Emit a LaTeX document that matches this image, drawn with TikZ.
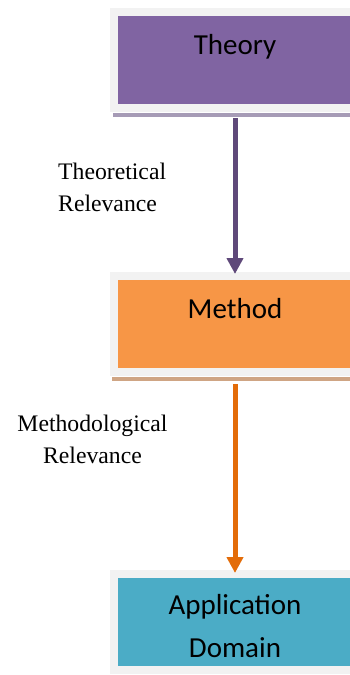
\documentclass[tikz,border=0pt]{standalone}
\usepackage{fontspec}
\setmainfont{Liberation Serif}
\newfontfamily\boxfont{Carlito}
\usetikzlibrary{arrows.meta}
\definecolor{framecol}{RGB}{242,242,242}
\definecolor{theorycol}{RGB}{128,100,162}
\definecolor{methodcol}{RGB}{247,150,70}
\definecolor{appcol}{RGB}{75,172,198}
\definecolor{theoryarr}{RGB}{95,73,122}
\definecolor{methodarr}{RGB}{227,108,9}
\definecolor{theoryshd}{RGB}{166,155,182}
\definecolor{methodshd}{RGB}{207,165,132}
\definecolor{appshd}{RGB}{127,176,190}
\tikzset{
  % coloured box in a light frame
  cbox/.style={rectangle, draw=framecol, line width=8pt, fill=#1, minimum width=242pt,
               inner sep=0pt, font=\boxfont\fontsize{29}{43}\selectfont, align=center},
  % one-line box: text sits in the upper part
  onebox/.style={cbox=#1, text height=42pt, text depth=54pt},
  % shadow strip under a box
  shadowbar/.style={fill=#1, draw=none},
  % flow arrow between boxes
  flowarrow/.style={-{Triangle[length=16pt,width=16pt]}, line width=5pt, draw=#1},
  % label beside an arrow
  sidelabel/.style={font=\fontsize{23.7}{32}\selectfont, inner sep=0pt},
}
\begin{document}
\begin{tikzpicture}[x=1pt,y=-1pt]
  \useasboundingbox (0,0) rectangle (350,675);
  \clip (0,0) rectangle (350,675);

  % boxes
  \node[onebox=theorycol] (theory) at (235,60) {Theory};
  \node[onebox=methodcol] (method) at (235,324) {Method};
  \node[cbox=appcol, text height=83pt, text depth=12.5pt] (app) at (235,621.75) {Application\\Domain};

  % shadows under the frames
  \fill[shadowbar=theoryshd] ([shift={(3,1)}]theory.south west) rectangle ([shift={(10,5)}]theory.south east);
  \fill[shadowbar=methodshd] ([shift={(2,1)}]method.south west) rectangle ([shift={(10,5)}]method.south east);
  \fill[shadowbar=appshd] ([shift={(3,1)}]app.south west) rectangle ([shift={(10,5)}]app.south east);

  % arrows
  \draw[flowarrow=theoryarr, shorten <=6pt, shorten >=-2pt] (theory) -- (method);
  \draw[flowarrow=methodarr, shorten <=8pt, shorten >=-3pt] (method) -- (app);

  % labels
  \node[sidelabel, align=left, anchor=base west] (theorylbl) at (58,211) {Theoretical\\Relevance};
  \node[sidelabel, align=center, anchor=base] (methodlbl) at (92.5,463) {Methodological\\Relevance};
\end{tikzpicture}
\end{document}
